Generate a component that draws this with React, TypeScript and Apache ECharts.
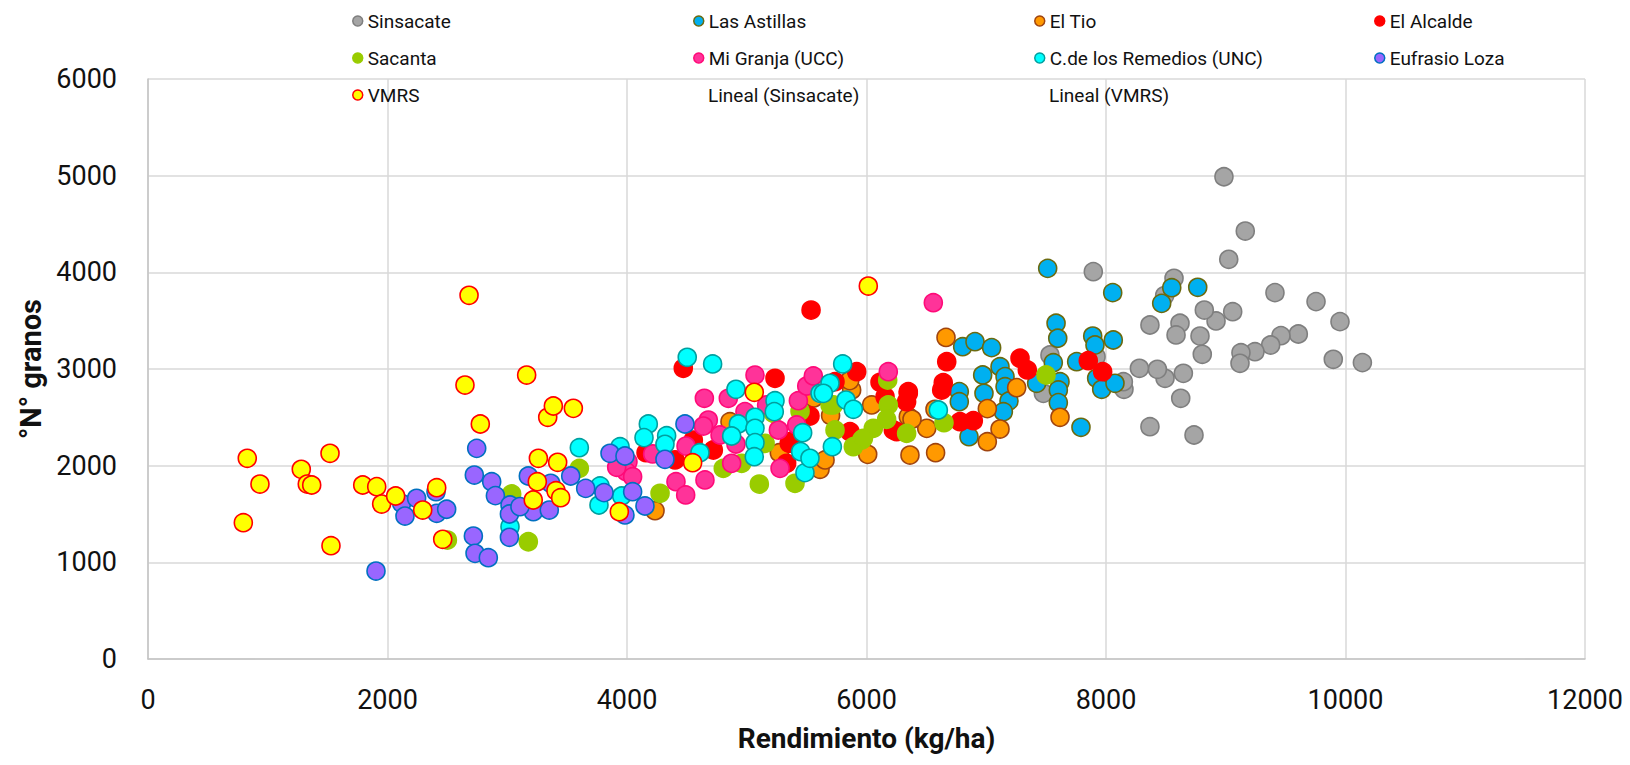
import React, { useEffect, useRef } from "react";
import * as echarts from "echarts";

const seriesNames = [
  "Sinsacate",
  "Las Astillas",
  "El Tio",
  "El Alcalde",
  "Sacanta",
  "Mi Granja (UCC)",
  "C.de los Remedios (UNC)",
  "Eufrasio Loza",
  "VMRS",
];
const trendNames = ["Lineal (Sinsacate)", "Lineal (VMRS)"];

const xTicks = [0, 2000, 4000, 6000, 8000, 10000, 12000];
const yTicks = [0, 1000, 2000, 3000, 4000, 5000, 6000];

const sinsacate = [
  [7894, 4007], [7532, 3145], [7477, 2748], [7917, 3128], [8985, 4989], [9163, 4427],
  [9025, 4135], [9411, 3790], [9754, 3697], [9954, 3490], [10141, 3066], [9898, 3100],
  [9606, 3362], [9461, 3345], [9375, 3248], [9244, 3179], [9127, 3169], [9119, 3059],
  [9058, 3593], [8919, 3497], [8821, 3610], [8785, 3341], [8804, 3152], [8568, 3938],
  [8618, 3473], [8585, 3352], [8367, 3455], [8646, 2955], [8493, 2904], [8429, 2997],
  [8279, 3007], [8624, 2697], [8367, 2403], [8735, 2317], [8150, 2790], [8145, 2869],
  [8490, 3760],
];
const lasAstillas = [
  [7513, 4041], [7583, 3473], [7597, 3318], [6803, 3231], [6906, 3283], [7045, 3221],
  [7115, 3024], [7157, 2921], [6970, 2938], [6981, 2748], [7157, 2817], [7190, 2669],
  [7143, 2558], [6775, 2766], [6775, 2662], [6856, 2300], [7560, 3065], [7616, 2869],
  [7602, 2783], [7602, 2652], [7791, 2397], [7421, 2852], [7889, 3341], [7908, 3248],
  [8056, 3790], [8061, 3300], [7755, 3076], [7922, 2904], [7964, 2790], [8075, 2852],
  [8549, 3841], [8766, 3845], [8465, 3679],
];
const elTio = [
  [6664, 3327], [7254, 2807], [7009, 2590], [7115, 2379], [7009, 2248], [7616, 2500],
  [6503, 2386], [6363, 2110], [6577, 2134], [6010, 2117], [5612, 1962], [6349, 2507],
  [6380, 2480], [6043, 2628], [5876, 2783], [6572, 2583], [4234, 1534], [5272, 2134],
  [4860, 2455], [5654, 2059], [5560, 2700], [5860, 2880], [5700, 2520],
];
const elAlcalde = [
  [5537, 3610], [5918, 2972], [6113, 2862], [6155, 2714], [6349, 2748], [6335, 2662],
  [6670, 3076], [6641, 2859], [6628, 2783], [6252, 2352], [5862, 2352], [6781, 2455],
  [6892, 2465], [7282, 3111], [7343, 2990], [7852, 3086], [7972, 2972], [4470, 3007],
  [5236, 2904], [5528, 2514], [4159, 2134], [4401, 2059], [4554, 2265], [4721, 2162],
  [5355, 2231], [5333, 2024], [5737, 2869], [5361, 2248], [6224, 2369], [6349, 2766],
];
const sacanta = [
  [7499, 2938], [6177, 2886], [6182, 2628], [6168, 2479], [6057, 2386], [5960, 2265],
  [5890, 2196], [6335, 2334], [6647, 2445], [5737, 2369], [5723, 2628], [5105, 1810],
  [5403, 1817], [4276, 1714], [4804, 1972], [3602, 1972], [3176, 1213], [5223, 2541],
  [3037, 1707], [2500, 1230], [4958, 2024], [5153, 2231], [5445, 2562], [5696, 2628],
  [5974, 2283],
];
const miGranja = [
  [5069, 2937], [4646, 2697], [4846, 2697], [4985, 2559], [4679, 2472], [4638, 2410],
  [4777, 2317], [4493, 2203], [4910, 2224], [4008, 2041], [3994, 1938], [4047, 1886],
  [3914, 1983], [4409, 1834], [4490, 1697], [4651, 1852], [4874, 2024], [5278, 1972],
  [5264, 2369], [5431, 2672], [5501, 2824], [5556, 2928], [5417, 2421], [4214, 2121],
  [6558, 3686], [6182, 2972], [5166, 2628],
];
const remedios = [
  [4503, 3121], [4715, 3052], [3602, 2186], [4178, 2431], [4142, 2290], [4331, 2310],
  [4317, 2221], [3942, 2196], [3775, 1790], [3766, 1593], [3956, 1686], [4609, 2134],
  [4910, 2790], [4930, 2431], [4874, 2307], [5069, 2500], [5069, 2386], [5069, 2238],
  [5063, 2093], [5236, 2672], [5230, 2559], [5467, 2341], [5450, 2145], [5486, 1928],
  [5528, 2076], [5612, 2748], [5801, 3052], [5695, 2852], [5640, 2748], [5829, 2679],
  [5890, 2583], [5715, 2196], [6600, 2576], [3023, 1369],
];
const eufrasio = [
  [2745, 2179], [2725, 1903], [2870, 1834], [2901, 1690], [3023, 1593], [3018, 1500],
  [3018, 1259], [2717, 1272], [2731, 1093], [2842, 1048], [1904, 910], [2118, 1610],
  [2243, 1662], [2146, 1479], [2411, 1507], [2494, 1549], [2405, 1731], [3858, 2128],
  [3983, 2100], [4484, 2431], [4317, 2066], [4047, 1731], [4150, 1583], [3983, 1490],
  [3808, 1721], [3655, 1765], [3530, 1893], [3363, 1817], [3176, 1893], [3218, 1524],
  [3351, 1541], [3106, 1576],
];
const vmrs = [
  [796, 1410], [829, 2076], [935, 1810], [1280, 1962], [1330, 1810], [1367, 1800],
  [1520, 2128], [1528, 1172], [1793, 1800], [1910, 1783], [1951, 1603], [2068, 1686],
  [2294, 1541], [2411, 1772], [2461, 1238], [2647, 2834], [2681, 3762], [2775, 2431],
  [3162, 2937], [3217, 1645], [3251, 1834], [3260, 2076], [3338, 2500], [3385, 2617],
  [3407, 1741], [3421, 2035], [3446, 1669], [3552, 2593], [3936, 1524], [4548, 2031],
  [5063, 2759], [6015, 3858],
];

const seriesData = [sinsacate, lasAstillas, elTio, elAlcalde, sacanta, miGranja, remedios, eufrasio, vmrs];
const fills = ["#a5a5a5", "#00b0f0", "#ff9900", "#ff0000", "#99cc00", "#ff3399", "#00ffff", "#9966ff", "#ffff00"];
const borders = ["#7f7f7f", "#6b6a10", "#a0440f", "#ff0000", "#99cc00", "#ff0a78", "#00a0a0", "#0070c0", "#ff0000"];

// legend layout: [name, column, row]
const legendLayout: [string, number, number][] = [
  ["Sinsacate", 0, 0], ["Las Astillas", 1, 0], ["El Tio", 2, 0], ["El Alcalde", 3, 0],
  ["Sacanta", 0, 1], ["Mi Granja (UCC)", 1, 1], ["C.de los Remedios (UNC)", 2, 1], ["Eufrasio Loza", 3, 1],
  ["VMRS", 0, 2], ["Lineal (Sinsacate)", 1, 2], ["Lineal (VMRS)", 2, 2],
];
const legendColX = [357, 698, 1039, 1379];
const legendRowY = [21, 58, 95];

export default function App() {
  const ref = useRef<HTMLDivElement>(null);
  useEffect(() => {
    document.body.style.margin = "0";
    if (!ref.current) return;
    const chart = echarts.init(ref.current, null, { renderer: "svg" });
    const font = "Roboto";
    const series: any[] = seriesNames.map((name, i) => ({
      name,
      type: "scatter",
      data: seriesData[i],
      symbol: "circle",
      symbolSize: 18,
      itemStyle: { color: fills[i], borderColor: borders[i], borderWidth: 1.6, opacity: 1 },
      z: 2 + i,
      emphasis: { disabled: true },
    }));
    trendNames.forEach((name) => {
      series.push({ name, type: "line", data: [], showSymbol: false, lineStyle: { width: 0 } });
    });
    const legends = legendLayout.map(([name, c, r]) => ({
      data: [{ name, icon: name.startsWith("Lineal") ? "none" : "circle" }],
      left: legendColX[c] - 5,
      top: legendRowY[r] - 11,
      padding: 0,
      itemWidth: 10,
      itemHeight: 10,
      itemGap: 0,
      selectedMode: false,
      itemStyle: { borderWidth: 1.5 },
      textStyle: { fontFamily: font, fontSize: 19, color: "#111", lineHeight: 22 },
    }));
    const plain = (v: number) => String(v);
    chart.setOption({
      animation: false,
      backgroundColor: "#ffffff",
      grid: { left: 148, right: 45, top: 79, bottom: 106 },
      legend: legends,
      xAxis: {
        type: "value",
        min: xTicks[0],
        max: xTicks[xTicks.length - 1],
        interval: xTicks[1] - xTicks[0],
        name: "Rendimiento (kg/ha)",
        nameLocation: "middle",
        nameGap: 65,
        nameTextStyle: { fontFamily: font, fontSize: 28, fontWeight: "bold", color: "#111" },
        axisLine: { show: true, lineStyle: { color: "#c4c4c4", width: 1.5 } },
        axisTick: { show: false },
        axisLabel: { fontFamily: font, fontSize: 27, color: "#111", margin: 27, formatter: plain },
        splitLine: { show: true, lineStyle: { color: "#d9d9d9", width: 1.5 } },
      },
      yAxis: {
        type: "value",
        min: yTicks[0],
        max: yTicks[yTicks.length - 1],
        interval: yTicks[1] - yTicks[0],
        name: "°N° granos",
        nameLocation: "middle",
        nameGap: 103,
        nameTextStyle: { fontFamily: font, fontSize: 29, fontWeight: "bold", color: "#111" },
        axisLine: { show: true, lineStyle: { color: "#c4c4c4", width: 1.5 } },
        axisTick: { show: false },
        axisLabel: { fontFamily: font, fontSize: 27, color: "#111", margin: 31, formatter: plain },
        splitLine: { show: true, lineStyle: { color: "#d9d9d9", width: 1.5 } },
      },
      series,
    });
    return () => chart.dispose();
  }, []);
  return <div ref={ref} style={{ width: 1630, height: 765 }} />;
}
